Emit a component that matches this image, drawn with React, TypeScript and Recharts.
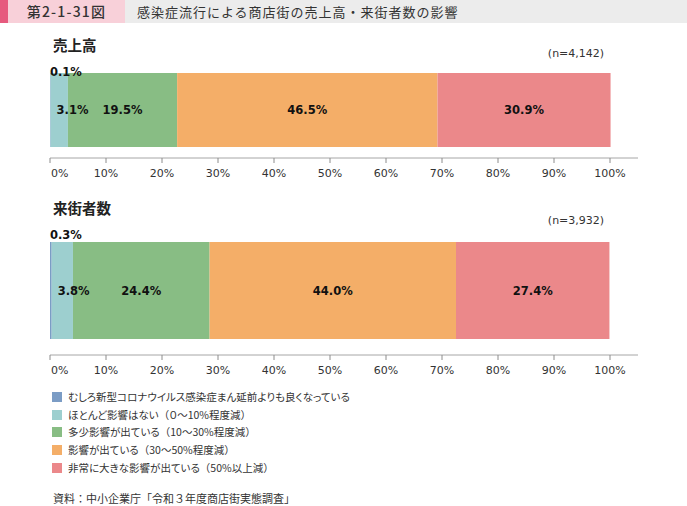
import { BarChart, Bar, XAxis, YAxis, LabelList } from 'recharts';

const seriesKeys = ['better', 'none', 'some', 'affected', 'severe'];
const seriesNames = [
  'むしろ新型コロナウイルス感染症まん延前よりも良くなっている',
  'ほとんど影響はない（０～10%程度減）',
  '多少影響が出ている（10～30%程度減）',
  '影響が出ている（30～50%程度減）',
  '非常に大きな影響が出ている（50%以上減）',
];
const seriesColors = ['#7b9cc5', '#9dcfcf', '#88bd84', '#f4ae68', '#eb888a'];

const panelTitles = ['売上高', '来街者数'];
const sampleSizes = ['(n=4,142)', '(n=3,932)'];
const salesValues = [0.1, 3.1, 19.5, 46.5, 30.9];
const visitorValues = [0.3, 3.8, 24.4, 44.0, 27.4];
const xTicks = [0, 10, 20, 30, 40, 50, 60, 70, 80, 90, 100];

const figureNo = '第2-1-31図';
const figureTitle = '感染症流行による商店街の売上高・来街者数の影響';
const sourceNote = '資料：中小企業庁「令和３年度商店街実態調査」';

const JP = '"Noto Sans CJK JP", "Noto Sans", sans-serif';
const NUM = '"DejaVu Sans", Verdana, sans-serif';

const AxisTick = (props: any) => {
  const { x, y, payload } = props;
  const first = payload.value === 0;
  return (
    <text
      x={first ? x + 1 : x}
      y={y}
      dy="0.71em"
      textAnchor={first ? 'start' : 'middle'}
      fill="#333"
      fontSize={11}
      fontFamily={NUM}
    >
      {payload.value}%
    </text>
  );
};

function makeLabel(index: number, lift: number) {
  return (props: any) => {
    const vb = props.viewBox ?? {};
    const x = props.x ?? vb.x;
    const y = props.y ?? vb.y;
    const w = props.width ?? vb.width;
    const h = props.height ?? vb.height;
    const v = Number(props.value);
    const text = `${v.toFixed(1)}%`;
    const common = { fill: '#111', fontSize: 11.5, fontWeight: 700, fontFamily: NUM };
    if (index === 0) {
      return (
        <text x={x} y={y - lift} dominantBaseline="central" textAnchor="start" {...common}>
          {text}
        </text>
      );
    }
    if (index === 1) {
      return (
        <text x={x + 6} y={y + h / 2} dominantBaseline="central" textAnchor="start" {...common}>
          {text}
        </text>
      );
    }
    return (
      <text x={x + w / 2} y={y + h / 2} dominantBaseline="central" textAnchor="middle" {...common}>
        {text}
      </text>
    );
  };
}

// legend text: proportional kana, but keep the full-width brackets
const LegendText = ({ text }: { text: string }) => (
  <>
    {text.split(/([（）])/).filter(Boolean).map((part, j) =>
      part === '（' || part === '）' ? (
        <span key={j} style={{ fontFeatureSettings: 'normal' }}>{part}</span>
      ) : (
        <span key={j}>{part}</span>
      ),
    )}
  </>
);

interface PanelProps {
  title: string;
  n: string;
  values: number[];
  top: number;
  height: number;
  marginTop: number;
  marginBottom: number;
  barSize: number;
  titleY: number;
  nY: number;
  lift: number;
}

function Panel({ title, n, values, top, height, marginTop, marginBottom, barSize, titleY, nY, lift }: PanelProps) {
  const row: Record<string, any> = { name: title };
  seriesKeys.forEach((k, i) => (row[k] = values[i]));
  return (
    <>
      <div
        style={{
          position: 'absolute', left: 53, top: titleY - 9, lineHeight: '18px',
          fontSize: 14.5, fontWeight: 700, fontFamily: JP, color: '#222',
        }}
      >
        {title}
      </div>
      <div
        style={{
          position: 'absolute', left: 520, width: 112, textAlign: 'center', top: nY - 8,
          lineHeight: '16px', fontSize: 11, fontFamily: NUM, color: '#333',
        }}
      >
        {n}
      </div>
      <div style={{ position: 'absolute', left: 0, top, width: 687, height }}>
        <BarChart
          width={687}
          height={height}
          data={[row]}
          layout="vertical"
          margin={{ top: marginTop, right: 49, bottom: marginBottom, left: 50 }}
        >
          <XAxis
            type="number"
            domain={[0, 105]}
            ticks={xTicks}
            allowDataOverflow
            interval={0}
            height={30}
            tickSize={5}
            tickMargin={6}
            axisLine={{ stroke: '#a6a6a6' }}
            tickLine={{ stroke: '#8c8c8c' }}
            tick={<AxisTick />}
          />
          <YAxis
            type="category"
            dataKey="name"
            width={0}
            tick={false}
            tickLine={false}
            axisLine={{ stroke: '#8c8c8c' }}
          />
          {seriesKeys.map((k, i) => (
            <Bar
              key={k}
              dataKey={k}
              stackId="s"
              fill={seriesColors[i]}
              barSize={barSize}
              isAnimationActive={false}
            >
              <LabelList dataKey={k} content={makeLabel(i, lift)} />
            </Bar>
          ))}
        </BarChart>
      </div>
    </>
  );
}

export default function App() {
  return (
    <div
      style={{
        position: 'absolute', left: 0, top: 0, width: 687, height: 506,
        background: '#fff', overflow: 'hidden',
      }}
    >
      <div style={{ position: 'absolute', left: 0, top: 0, width: 687, height: 23, background: '#ececec' }} />
      <div style={{ position: 'absolute', left: 0, top: 0, width: 125, height: 23, background: '#f8d0d9' }} />
      <div style={{ position: 'absolute', left: 0, top: 0, width: 8, height: 23, background: '#e65a7e' }} />
      <div
        style={{
          position: 'absolute', left: 8, width: 117, top: 0, height: 23, lineHeight: '23px',
          textAlign: 'center', fontSize: 14, fontWeight: 500, letterSpacing: 1.2,
          fontFamily: JP, color: '#333',
        }}
      >
        {figureNo}
      </div>
      <div
        style={{
          position: 'absolute', left: 137, top: 0, height: 23, lineHeight: '23px',
          fontSize: 13, letterSpacing: 1, fontFamily: JP, color: '#333', whiteSpace: 'nowrap',
        }}
      >
        {figureTitle}
      </div>

      <Panel
        title={panelTitles[0]}
        n={sampleSizes[0]}
        values={salesValues}
        top={50}
        height={140}
        marginTop={11}
        marginBottom={2}
        barSize={74}
        titleY={45}
        nY={54}
        lift={1}
      />
      <Panel
        title={panelTitles[1]}
        n={sampleSizes[1]}
        values={visitorValues}
        top={215}
        height={180}
        marginTop={10}
        marginBottom={10}
        barSize={97}
        titleY={208}
        nY={221}
        lift={7}
      />

      {seriesNames.map((name, i) => (
        <div
          key={name}
          style={{
            position: 'absolute', left: 52, top: 389 + i * 17.7, height: 16,
            display: 'flex', alignItems: 'center', whiteSpace: 'nowrap',
          }}
        >
          <span style={{ display: 'inline-block', width: 10, height: 10, background: seriesColors[i] }} />
          <span
            style={{
              marginLeft: 6, fontSize: 10.5, fontFeatureSettings: '"palt"', fontFamily: JP,
              color: '#333', lineHeight: '16px',
            }}
          >
            <LegendText text={name} />
          </span>
        </div>
      ))}

      <div
        style={{
          position: 'absolute', left: 53, top: 490, lineHeight: '16px', fontSize: 11,
          fontFamily: JP, color: '#333', whiteSpace: 'nowrap',
        }}
      >
        {sourceNote}
      </div>
    </div>
  );
}
